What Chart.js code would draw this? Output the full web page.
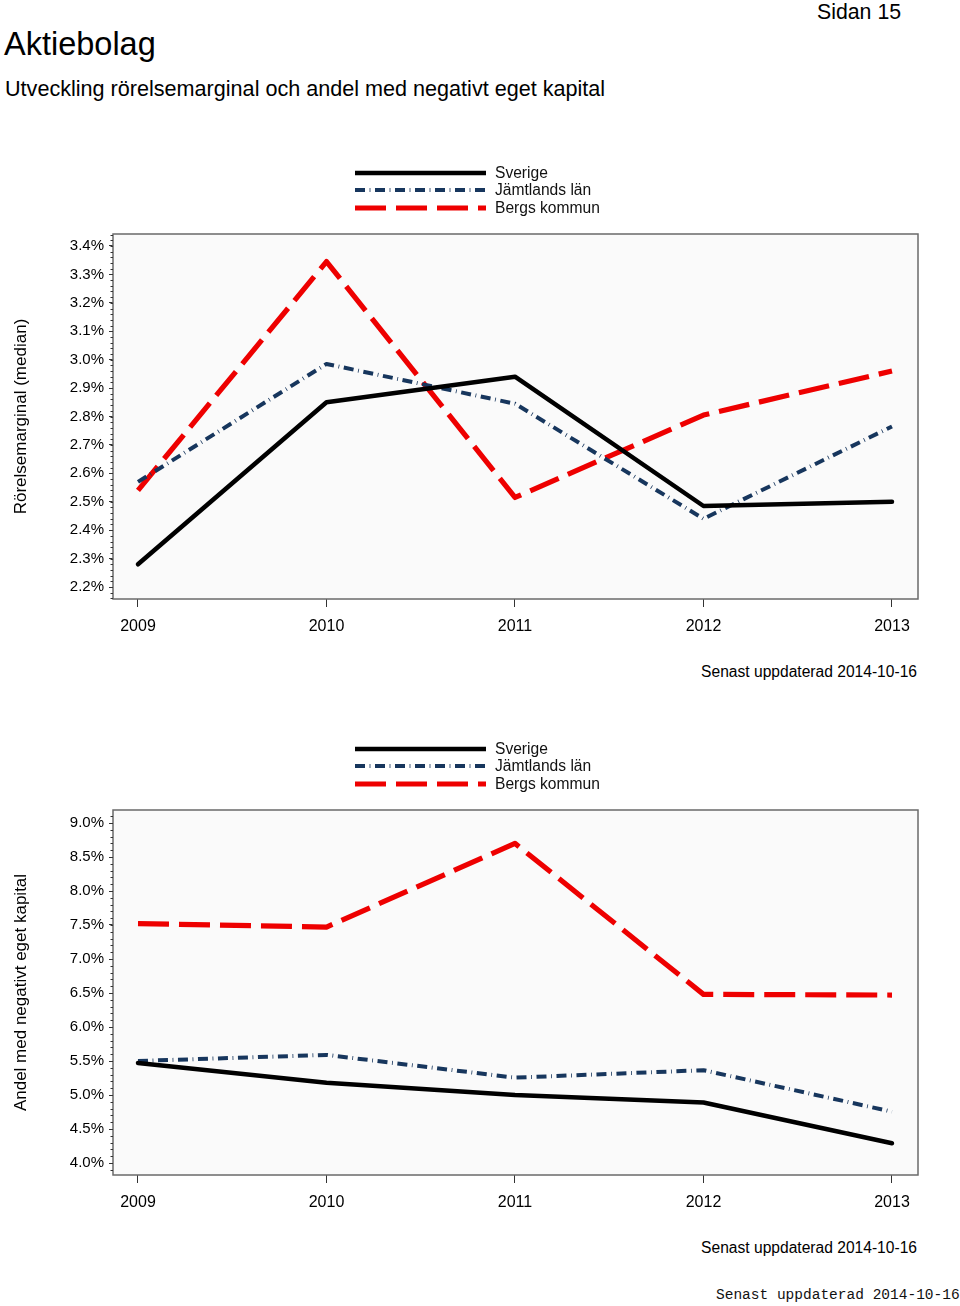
<!DOCTYPE html>
<html><head><meta charset="utf-8">
<script src="https://cdn.jsdelivr.net/npm/chart.js@4.4.0/dist/chart.umd.min.js"></script>
<style>
body{margin:0;background:#fff;width:960px;height:1306px;position:relative;overflow:hidden;font-family:"Liberation Sans",Arial,sans-serif;}
.t{position:absolute;white-space:nowrap;color:#000;line-height:1;}
canvas{position:absolute;left:0;}
</style></head><body>
<div class="t" style="left:4px;top:28px;font-size:32.5px;">Aktiebolag</div>
<div class="t" style="left:5px;top:78px;font-size:21.6px;">Utveckling rörelsemarginal och andel med negativt eget kapital</div>
<div class="t" style="left:817px;top:2px;font-size:21.3px;">Sidan 15</div>
<div class="t" style="right:43px;top:664px;font-size:15.6px;">Senast uppdaterad 2014-10-16</div>
<div class="t" style="right:43px;top:1240px;font-size:15.6px;">Senast uppdaterad 2014-10-16</div>
<div class="t" style="left:716px;top:1288px;font-size:14.5px;font-family:'Liberation Mono','Courier New',monospace;color:#111;">Senast uppdaterad 2014-10-16</div>
<canvas id="c1" width="930" height="490" style="top:150px;"></canvas>
<canvas id="c2" width="930" height="490" style="top:726px;"></canvas>
<script>
const years = [2009, 2010, 2011, 2012, 2013];
const seriesNames = ['Sverige', 'Jämtlands län', 'Bergs kommun'];

// Rörelsemarginal (median), %
const marginSverige  = [2.28, 2.85, 2.94, 2.485, 2.50];
const marginJamtland = [2.57, 2.985, 2.845, 2.44, 2.765];
const marginBerg     = [2.54, 3.345, 2.515, 2.805, 2.96];
const marginTicks    = [2.2, 2.3, 2.4, 2.5, 2.6, 2.7, 2.8, 2.9, 3.0, 3.1, 3.2, 3.3, 3.4];

// Andel med negativt eget kapital, %
const negSverige  = [5.47, 5.18, 5.00, 4.89, 4.29];
const negJamtland = [5.50, 5.59, 5.255, 5.365, 4.755];
const negBerg     = [7.52, 7.47, 8.70, 6.48, 6.47];
const negTicks    = [4.0, 4.5, 5.0, 5.5, 6.0, 6.5, 7.0, 7.5, 8.0, 8.5, 9.0];

Chart.defaults.font.family = '"Liberation Sans", Arial, sans-serif';
Chart.defaults.color = '#000';

const lineStyles = [
  {borderColor: '#000000', borderWidth: 4.5, borderDash: [], borderCapStyle: 'round'},
  {borderColor: '#17365d', borderWidth: 4, borderDash: [10, 4.6, 0.8, 4.6], borderCapStyle: 'butt'},
  {borderColor: '#ee0000', borderWidth: 5.2, borderDash: [31, 10], borderCapStyle: 'butt'}
];

const framePlugin = {
  id: 'frame',
  beforeDraw(chart) {
    const {ctx, chartArea: a} = chart;
    ctx.save();
    ctx.fillStyle = '#fafafa';
    ctx.fillRect(a.left, a.top, a.right - a.left, a.bottom - a.top);
    ctx.restore();
  },
  afterDraw(chart) {
    const {ctx, chartArea: a} = chart;
    const ys = chart.scales.y;
    const majors = chart.options.plugins.frame.ticks;
    ctx.save();
    ctx.strokeStyle = '#6a6a6a';
    ctx.lineWidth = 1.5;
    ctx.strokeRect(a.left, a.top, a.right - a.left, a.bottom - a.top);
    // minor ticks
    const minor = (majors[1] - majors[0]) / 5;
    ctx.strokeStyle = '#333';
    ctx.lineWidth = 1;
    const k0 = Math.ceil(ys.min / minor), k1 = Math.floor(ys.max / minor);
    for (let k = k0; k <= k1; k++) {
      const v = k * minor;
      const py = Math.round(ys.getPixelForValue(v)) + 0.5;
      ctx.beginPath();
      ctx.moveTo(a.left - 2.5, py);
      ctx.lineTo(a.left, py);
      ctx.stroke();
    }
    // legend
    const rows = [23, 40, 58];
    chart.data.datasets.forEach((ds, i) => {
      ctx.save();
      ctx.strokeStyle = ds.borderColor;
      ctx.lineWidth = ds.borderWidth;
      ctx.setLineDash(ds.borderDash);
      ctx.lineCap = 'butt';
      ctx.beginPath();
      ctx.moveTo(355, rows[i]);
      ctx.lineTo(486, rows[i]);
      ctx.stroke();
      ctx.restore();
      ctx.fillStyle = '#111';
      ctx.font = '15.6px "Liberation Sans", Arial, sans-serif';
      ctx.textBaseline = 'middle';
      ctx.textAlign = 'left';
      ctx.fillText(ds.label, 495, rows[i] + 1);
    });
    ctx.restore();
  }
};

function makeChart(id, series, yTicks, yMin, yMax, title) {
  const datasets = series.map((vals, i) => Object.assign({
    label: seriesNames[i],
    data: years.map((yr, j) => ({x: yr, y: vals[j]})),
    pointRadius: 0,
    pointHoverRadius: 0,
    tension: 0,
    fill: false,
    borderJoinStyle: 'round'
  }, lineStyles[i]));
  return new Chart(document.getElementById(id), {
    type: 'line',
    data: {datasets},
    plugins: [framePlugin],
    options: {
      responsive: false,
      animation: false,
      devicePixelRatio: 1,
      layout: {padding: {top: 84, right: 12, left: 0, bottom: 0}},
      plugins: {legend: {display: false}, tooltip: {enabled: false}, frame: {ticks: yTicks}},
      scales: {
        x: {
          type: 'linear',
          min: years[0] - 0.1326,
          max: years[years.length - 1] + 0.138,
          afterBuildTicks: s => { s.ticks = years.map(v => ({value: v})); },
          afterFit: s => { s.height = 41; },
          ticks: {callback: v => String(v), font: {size: 16}, color: '#000', padding: 10, autoSkip: false, maxRotation: 0},
          grid: {drawOnChartArea: false, drawTicks: true, tickLength: 8, color: '#333', lineWidth: 1},
          border: {display: false}
        },
        y: {
          type: 'linear',
          min: yMin,
          max: yMax,
          afterBuildTicks: s => { s.ticks = yTicks.map(v => ({value: v})); },
          afterFit: s => { s.width = 113; },
          ticks: {callback: v => v.toFixed(1) + '%', font: {size: 15}, color: '#000', padding: 5, autoSkip: false},
          grid: {drawOnChartArea: false, drawTicks: true, tickLength: 4, color: '#333', lineWidth: 1},
          border: {display: false},
          title: {display: true, text: title, font: {size: 17}, color: '#000', padding: {top: 11, bottom: 0}}
        }
      }
    }
  });
}

makeChart('c1', [marginSverige, marginJamtland, marginBerg], marginTicks, 2.2 - 12 / 284.2, 3.4 + 12 / 284.2, 'Rörelsemarginal (median)');
makeChart('c2', [negSverige, negJamtland, negBerg], negTicks, 4.0 - 12 / 68, 9.0 + 13 / 68, 'Andel med negativt eget kapital');
</script>
</body></html>
